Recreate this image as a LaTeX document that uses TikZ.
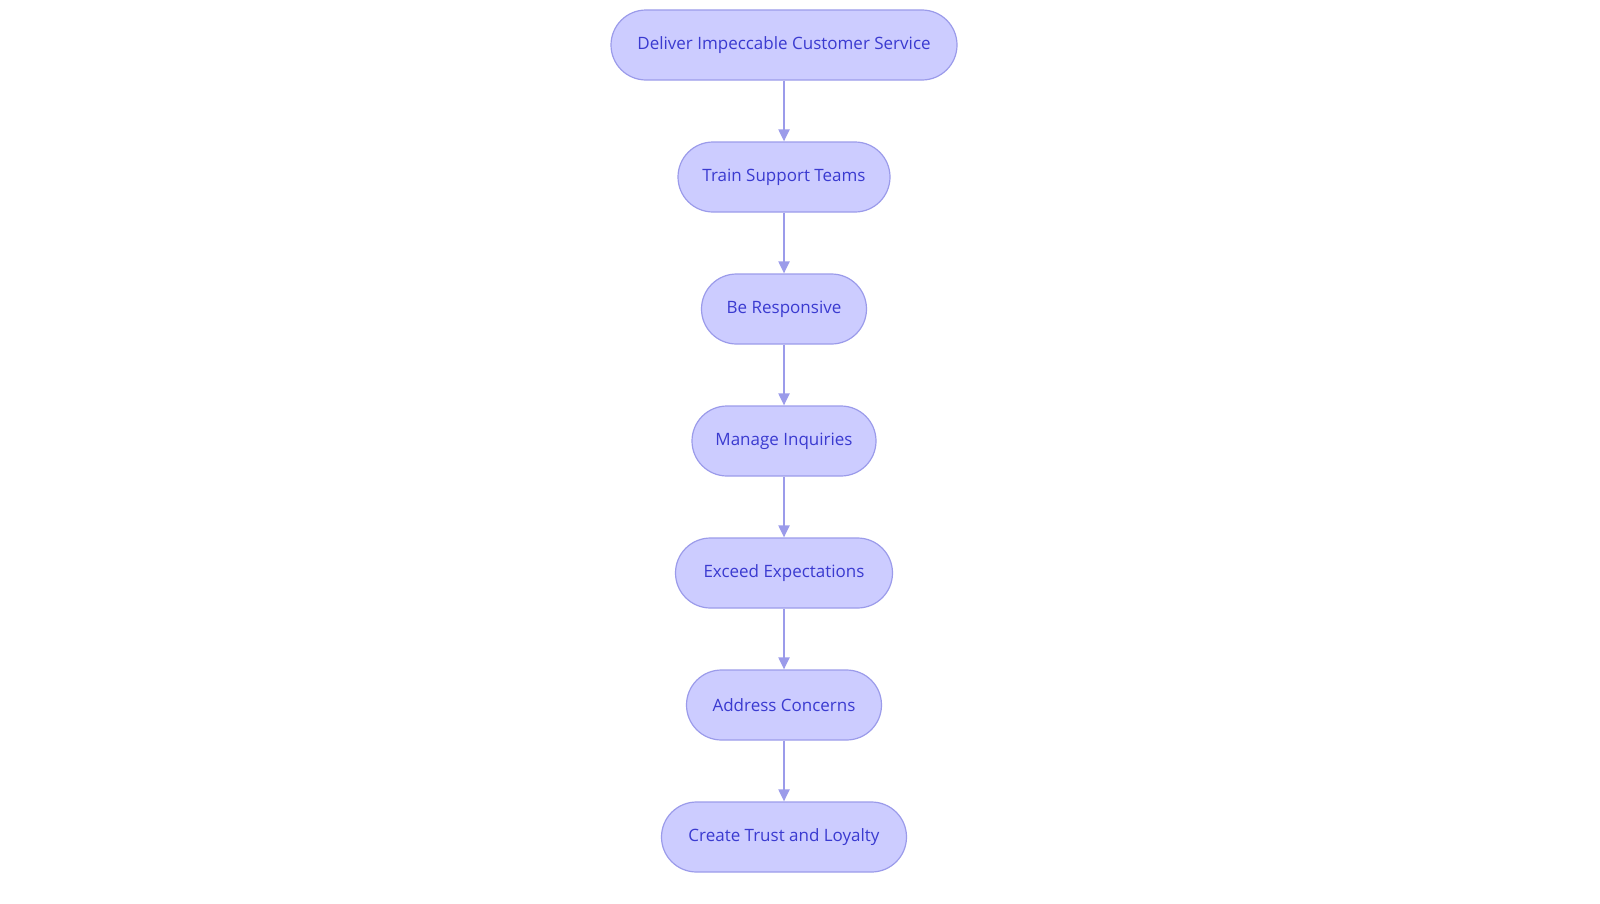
\documentclass[tikz,border=0pt]{standalone}
\usepackage{fontspec}
\setmainfont{Open Sans}
\usetikzlibrary{arrows.meta}
\definecolor{nfill}{HTML}{CCCCFF}
\definecolor{nline}{HTML}{9B9BEA}
\definecolor{ntext}{HTML}{3A3AD0}
\begin{document}
\begin{tikzpicture}[x=1bp,y=-1bp,
  box/.style={draw=nline,fill=nfill,line width=1.2bp,rounded corners=35bp,minimum height=70bp,inner sep=0pt,text=ntext,font=\fontsize{17bp}{20bp}\selectfont},
  arr/.style={draw=nline,line width=2bp,-{Triangle[length=12bp,width=11bp]}}]
\useasboundingbox (0,0) rectangle (1600,903);
\node[box,minimum width=346bp] (a) at (784,45) {Deliver Impeccable Customer Service};
\node[box,minimum width=212bp] (b) at (784,177) {Train Support Teams};
\node[box,minimum width=165bp] (c) at (784,309) {Be Responsive};
\node[box,minimum width=184bp] (d) at (784,441) {Manage Inquiries};
\node[box,minimum width=217bp] (e) at (784,573) {Exceed Expectations};
\node[box,minimum width=195bp] (f) at (784,705) {Address Concerns};
\node[box,minimum width=245bp] (g) at (784,837) {Create Trust and Loyalty};
\foreach \p/\q in {a/b,b/c,c/d,d/e,e/f,f/g} \draw[arr] (\p) -- (\q);
\end{tikzpicture}
\end{document}
